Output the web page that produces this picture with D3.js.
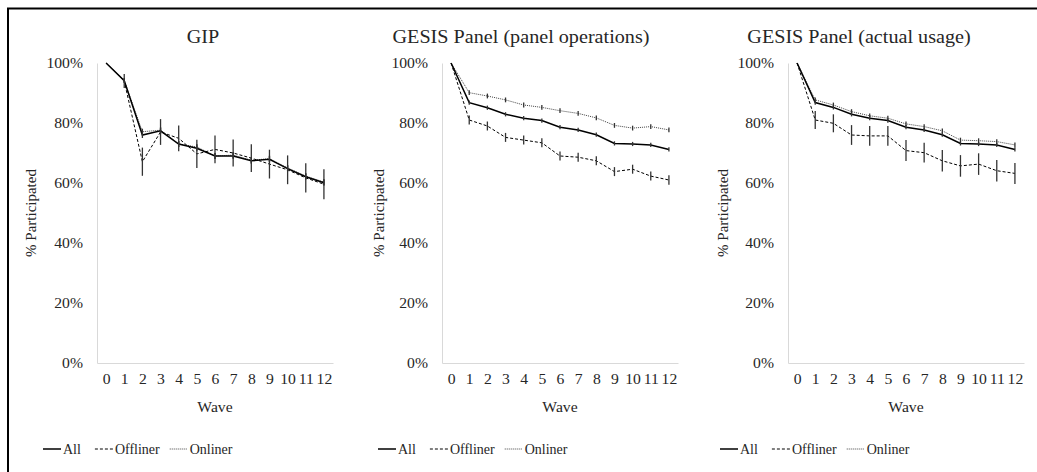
<!DOCTYPE html>
<html>
<head>
<meta charset="utf-8">
<script src="https://cdn.jsdelivr.net/npm/d3@7"></script>
<style>
  html, body { margin: 0; padding: 0; background: #fff; }
  svg { display: block; }
</style>
</head>
<body>
<svg id="chart" width="1037" height="472"></svg>
<script>
// ---- data ----
const waves = [0, 1, 2, 3, 4, 5, 6, 7, 8, 9, 10, 11, 12];
const yTicks = [0, 20, 40, 60, 80, 100];
const panelTitles = ["GIP", "GESIS Panel (panel operations)", "GESIS Panel (actual usage)"];
const seriesNames = ["All", "Offliner", "Onliner"];

// GIP
const gipAll      = [100, 94.1, 76.0, 77.4, 73.0, 71.6, 69.0, 69.0, 67.4, 67.9, 64.8, 62.1, 60.1];
const gipOffliner = [100, 94.0, 67.1, 77.0, 74.9, 69.7, 71.2, 70.0, 68.3, 66.3, 64.4, 61.7, 59.6];
const gipOnliner  = [100, 94.2, 77.1, 77.6, 73.0, 72.0, 69.0, 69.3, 67.6, 68.1, 65.0, 62.3, 60.3];
const gipAllErr      = [0, 0.8, 1.0, 1.0, 1.0, 1.0, 1.0, 1.0, 1.0, 1.0, 1.0, 1.0, 1.0];
const gipOfflinerErr = [0, 2.3, 4.7, 4.3, 4.3, 4.7, 4.6, 4.5, 4.6, 4.8, 4.8, 4.9, 5.0];
const gipOnlinerErr  = [0, 0.8, 1.0, 1.0, 1.0, 1.0, 1.0, 1.0, 1.0, 1.0, 1.0, 1.0, 1.0];

// GESIS Panel (panel operations)
const opsAll      = [100, 86.8, 85.1, 82.9, 81.6, 80.8, 78.6, 77.7, 76.1, 73.2, 73.0, 72.7, 71.2];
const opsOffliner = [100, 81.0, 79.0, 75.2, 74.3, 73.4, 69.0, 68.6, 67.4, 63.8, 64.6, 62.3, 61.0];
const opsOnliner  = [100, 90.1, 89.0, 87.7, 86.0, 85.2, 84.1, 83.2, 81.7, 79.2, 78.3, 78.8, 77.7];
const opsAllErr      = [0, 0.7, 0.7, 0.7, 0.7, 0.7, 0.7, 0.7, 0.7, 0.7, 0.7, 0.7, 0.7];
const opsOfflinerErr = [0, 1.5, 1.5, 1.5, 1.5, 1.5, 1.5, 1.5, 1.5, 1.5, 1.5, 1.5, 1.6];
const opsOnlinerErr  = [0, 0.8, 0.8, 0.8, 0.8, 0.8, 0.8, 0.8, 0.8, 0.8, 0.8, 0.8, 0.8];

// GESIS Panel (actual usage)
const useAll      = [100, 86.8, 85.2, 82.9, 81.6, 80.8, 78.6, 77.7, 76.1, 73.2, 73.0, 72.7, 71.2];
const useOffliner = [100, 81.0, 79.9, 76.0, 75.7, 75.7, 70.8, 70.1, 67.4, 65.7, 66.3, 64.1, 63.2];
const useOnliner  = [100, 87.7, 86.0, 83.8, 82.4, 81.6, 79.7, 78.8, 77.4, 74.3, 74.1, 73.8, 72.7];
const useAllErr      = [0, 0.7, 0.7, 0.7, 0.7, 0.7, 0.7, 0.7, 0.7, 0.7, 0.7, 0.7, 0.7];
const useOfflinerErr = [0, 3.0, 3.0, 3.3, 3.3, 3.3, 3.5, 3.3, 3.6, 3.6, 3.6, 3.6, 3.5];
const useOnlinerErr  = [0, 0.8, 0.8, 0.8, 0.8, 0.8, 0.8, 0.8, 0.8, 0.8, 0.8, 0.8, 0.8];

const FONT = '"Liberation Serif", "Times New Roman", serif';
const STRETCH = 1.12; // horizontal widening of the reference's text

// ---- build ----
const panels = [
  { title: panelTitles[0], all: gipAll, off: gipOffliner, on: gipOnliner, allE: gipAllErr, offE: gipOfflinerErr, onE: gipOnlinerErr },
  { title: panelTitles[1], all: opsAll, off: opsOffliner, on: opsOnliner, allE: opsAllErr, offE: opsOfflinerErr, onE: opsOnlinerErr },
  { title: panelTitles[2], all: useAll, off: useOffliner, on: useOnliner, allE: useAllErr, offE: useOfflinerErr, onE: useOnlinerErr }
];

const layout = {
  plotLeft: [97, 442, 788],
  plotWidth: 236,
  top: 63, bottom: 363,
  titleX: [203, 521, 859],
  yTitleX: [31, 379, 723],
  legendX: [43, 378, 720]
};

const styles = {
  All:      { stroke: "#000", width: 1.5, dash: null },
  Offliner: { stroke: "#000", width: 1, dash: "3,2" },
  Onliner:  { stroke: "#444", width: 1, dash: "1,1" }
};

const svg = d3.select("#chart");

// widen a text horizontally around its own anchor point
function widen(sel, k) {
  sel.each(function () {
    const t = d3.select(this);
    const x0 = +(t.attr("x") || 0);
    t.attr("x", x0 / k);
    const tr = t.attr("transform") || "";
    t.attr("transform", (tr + ` scale(${k},1)`).trim());
  });
}

// outer frame
svg.append("rect")
  .attr("x", 8).attr("y", 8.5)
  .attr("width", 1040).attr("height", 480)
  .attr("fill", "none").attr("stroke", "#000").attr("stroke-width", 2);

const y = d3.scaleLinear().domain([0, 100]).range([layout.bottom, layout.top]);

panels.forEach((p, i) => {
  const left = layout.plotLeft[i];
  const x = d3.scalePoint().domain(waves).range([left, left + layout.plotWidth]).padding(0.5);
  const g = svg.append("g").attr("font-family", FONT).attr("fill", "#262626");

  // title
  g.append("text")
    .attr("transform", `translate(${layout.titleX[i]},43)`)
    .attr("text-anchor", "middle")
    .style("font-size", "18px")
    .text(p.title)
    .call(widen, STRETCH);

  // y axis
  const ya = g.append("g")
    .attr("transform", `translate(${left},0)`)
    .call(d3.axisLeft(y).tickValues(yTicks).tickSize(0).tickPadding(14).tickFormat(d => d + "%"));
  ya.attr("font-family", FONT);
  ya.select(".domain").attr("stroke", "#d9d9d9").attr("stroke-width", 1);
  ya.selectAll("text").style("font-size", "14px").attr("fill", "#262626").call(widen, STRETCH);

  // x axis
  const xa = g.append("g")
    .attr("transform", `translate(0,${layout.bottom})`)
    .call(d3.axisBottom(x).tickSize(0).tickPadding(11));
  xa.attr("font-family", FONT);
  xa.select(".domain").attr("stroke", "#d9d9d9").attr("stroke-width", 1.2);
  xa.selectAll("text").style("font-size", "14px").attr("fill", "#262626").call(widen, STRETCH);

  // axis titles
  g.append("text")
    .attr("transform", `translate(${left + layout.plotWidth / 2},412)`)
    .attr("text-anchor", "middle").style("font-size", "14px")
    .text("Wave")
    .call(widen, STRETCH);
  g.append("text")
    .attr("transform", `translate(${layout.yTitleX[i]},${(layout.top + layout.bottom) / 2}) rotate(-90)`)
    .attr("text-anchor", "middle").attr("dy", "0.35em").style("font-size", "15px")
    .text("% Participated");

  const series = [
    { name: "Onliner", vals: p.on, err: p.onE },
    { name: "Offliner", vals: p.off, err: p.offE },
    { name: "All", vals: p.all, err: p.allE }
  ];

  const line = d3.line().x((d, k) => x(waves[k])).y(d => y(d));

  series.forEach(s => {
    const st = styles[s.name];
    g.append("path")
      .datum(s.vals)
      .attr("d", line)
      .attr("fill", "none")
      .attr("stroke", st.stroke)
      .attr("stroke-width", st.width)
      .attr("stroke-dasharray", st.dash);
  });

  // error bars
  series.forEach(s => {
    g.selectAll(null)
      .data(waves.filter((w, k) => s.err[k] > 0))
      .enter().append("line")
      .attr("x1", w => x(w)).attr("x2", w => x(w))
      .attr("y1", w => y(s.vals[w] + s.err[w]))
      .attr("y2", w => y(s.vals[w] - s.err[w]))
      .attr("stroke", "#333")
      .attr("stroke-width", 1.3);
  });

  // legend
  let lx = layout.legendX[i];
  const ly = 449;
  const gaps = { All: 14, Offliner: 10, Onliner: 0 };
  seriesNames.forEach(n => {
    const st = styles[n];
    g.append("line")
      .attr("x1", lx).attr("x2", lx + 18)
      .attr("y1", ly).attr("y2", ly)
      .attr("stroke", st.stroke).attr("stroke-width", st.width)
      .attr("stroke-dasharray", st.dash);
    const t = g.append("text")
      .attr("x", lx + 20).attr("y", ly).attr("dy", "0.35em")
      .style("font-size", "14px")
      .text(n);
    lx += 20 + t.node().getComputedTextLength() + gaps[n];
  });
});
</script>
</body>
</html>
